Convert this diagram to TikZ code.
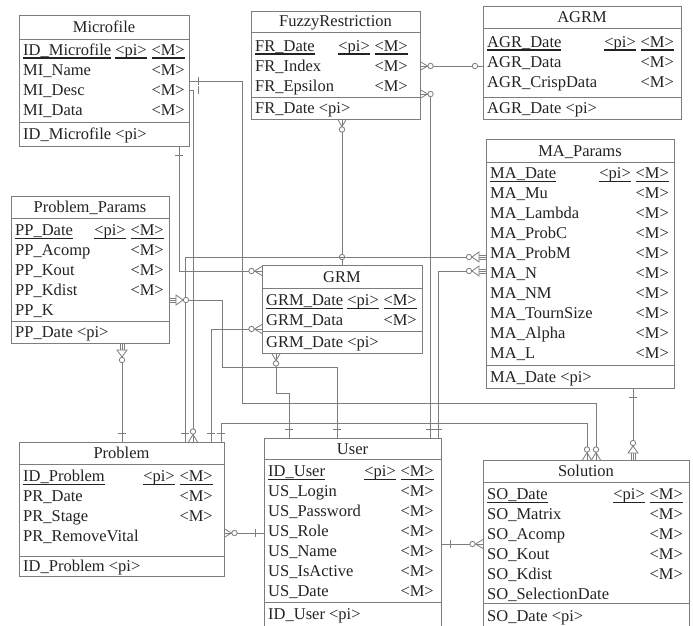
\documentclass[tikz,border=0pt]{standalone}
\usepackage{fontspec}
\setmainfont{Liberation Serif}
\definecolor{ln}{RGB}{125,125,125}
\definecolor{tx}{RGB}{35,35,35}
\tikzset{
  tbox/.style={draw=ln, line width=0.9pt, inner sep=0pt, outer sep=0pt, fill=white, anchor=north west},
  tline/.style={draw=ln, line width=0.9pt},
  conn/.style={draw=ln, line width=0.8pt},
  txt/.style={text=tx, inner sep=0pt, font=\fontsize{16.5}{18}\selectfont},
}
\newcommand\ul[1]{\setbox0\hbox{#1}\rlap{\vrule width\wd0 height -2pt depth 3.3pt}\box0}
% table frame: name, L, T, R, B, title-sep y, key-sep y, title
\newcommand\etab[8]{%
  \pgfmathsetmacro\tw{#4-#2}\pgfmathsetmacro\th{#5-#3}%
  \node[tbox, minimum width=\tw pt, minimum height=\th pt] (#1) at (#2,#3) {};
  \draw[tline] (#2,#6) -- (#4,#6) (#2,#7) -- (#4,#7);
  \node[txt, anchor=base] (#1-t) at ({(#2+#4)/2},{(#3+#6)/2+5.5}) {#8};
}
% key row: table, L, xM, y, name
\newcommand\rK[5]{%
  \node[txt,anchor=base west] (#1-#4) at (#2+4,#4+5.5) {\ul{#5}};
  \node[txt,anchor=base east] (#1-#4p) at (#3-38,#4+5.5) {\ul{<pi>}};
  \node[txt,anchor=base east] (#1-#4m) at (#3,#4+5.5) {\ul{<M>}};
}
% mandatory row
\newcommand\rM[5]{%
  \node[txt,anchor=base west] (#1-#4) at (#2+4,#4+5.5) {#5};
  \node[txt,anchor=base east] (#1-#4m) at (#3,#4+5.5) {<M>};
}
% plain row: table, L, y, text
\newcommand\rN[4]{%
  \node[txt,anchor=base west] (#1-#3) at (#2+4,#3+5.5) {#4};
}
% end symbols: point, outward angle
\newcommand\symOne[2]{\begin{scope}[shift={(#1)},rotate=#2]\draw[conn] (9,-4) -- (9,4);\end{scope}}
\newcommand\symOpt[2]{\begin{scope}[shift={(#1)},rotate=#2]\draw[conn,fill=white] (8,0) circle[radius=2.7pt];\end{scope}}
\newcommand\symMany[2]{\begin{scope}[shift={(#1)},rotate=#2]\draw[conn] (0,-4.5) -- (7.5,0) -- (0,4.5);\draw[conn,fill=white] (10.5,0) circle[radius=2.7pt];\end{scope}}
\newcommand\symDep[2]{\begin{scope}[shift={(#1)},rotate=#2]\draw[conn] (0,-2) -- (7,-2) (0,2) -- (7,2);\draw[conn,fill=white] (7,-5) -- (7,5) -- (14,0) -- cycle;\draw[conn,fill=white] (17,0) circle[radius=2.7pt];\end{scope}}
\begin{document}
\begin{tikzpicture}[x=1pt,y=-1pt]
\useasboundingbox (0,0) rectangle (693,626);
\fill[white] (0,0) rectangle (693,626);

% Microfile
\etab{mf}{19}{15}{189}{146}{39}{122}{Microfile}
\rK{mf}{19}{185}{50}{ID\_Microfile}
\rM{mf}{19}{185}{70}{MI\_Name}
\rM{mf}{19}{185}{90}{MI\_Desc}
\rM{mf}{19}{185}{110}{MI\_Data}
\rN{mf}{19}{134}{ID\_Microfile <pi>}

% FuzzyRestriction
\etab{fr}{251}{11}{420}{119}{32}{97}{FuzzyRestriction}
\rK{fr}{251}{408}{46}{FR\_Date}
\rM{fr}{251}{408}{66}{FR\_Index}
\rM{fr}{251}{408}{86}{FR\_Epsilon}
\rN{fr}{251}{108}{FR\_Date <pi>}

% AGRM
\etab{agrm}{483}{6}{681}{119}{28}{97}{AGRM}
\rK{agrm}{483}{674}{42}{AGR\_Date}
\rM{agrm}{483}{674}{62}{AGR\_Data}
\rM{agrm}{483}{674}{82}{AGR\_CrispData}
\rN{agrm}{483}{108}{AGR\_Date <pi>}

% Problem_Params
\etab{pp}{11}{196}{169}{343}{218}{321}{Problem\_Params}
\rK{pp}{11}{164}{230}{PP\_Date}
\rM{pp}{11}{164}{250}{PP\_Acomp}
\rM{pp}{11}{164}{270}{PP\_Kout}
\rM{pp}{11}{164}{290}{PP\_Kdist}
\rN{pp}{11}{310}{PP\_K}
\rN{pp}{11}{332}{PP\_Date <pi>}

% GRM
\etab{grm}{262}{265}{422}{353}{288}{331}{GRM}
\rK{grm}{262}{417}{300}{GRM\_Date}
\rM{grm}{262}{417}{320}{GRM\_Data}
\rN{grm}{262}{342}{GRM\_Date <pi>}

% MA_Params
\etab{ma}{486}{139}{674}{388}{162}{365}{MA\_Params}
\rK{ma}{486}{669}{173}{MA\_Date}
\rM{ma}{486}{669}{193}{MA\_Mu}
\rM{ma}{486}{669}{213}{MA\_Lambda}
\rM{ma}{486}{669}{233}{MA\_ProbC}
\rM{ma}{486}{669}{253}{MA\_ProbM}
\rM{ma}{486}{669}{273}{MA\_N}
\rM{ma}{486}{669}{293}{MA\_NM}
\rM{ma}{486}{669}{313}{MA\_TournSize}
\rM{ma}{486}{669}{333}{MA\_Alpha}
\rM{ma}{486}{669}{353}{MA\_L}
\rN{ma}{486}{377}{MA\_Date <pi>}

% Problem
\etab{pr}{19}{442}{224}{576}{464}{556}{Problem}
\rK{pr}{19}{213}{476}{ID\_Problem}
\rM{pr}{19}{213}{496}{PR\_Date}
\rM{pr}{19}{213}{516}{PR\_Stage}
\rN{pr}{19}{536}{PR\_RemoveVital}
\rN{pr}{19}{566}{ID\_Problem <pi>}

% User
\etab{us}{264}{438}{441}{632}{459}{602}{User}
\rK{us}{264}{434}{471}{ID\_User}
\rM{us}{264}{434}{491}{US\_Login}
\rM{us}{264}{434}{511}{US\_Password}
\rM{us}{264}{434}{531}{US\_Role}
\rM{us}{264}{434}{551}{US\_Name}
\rM{us}{264}{434}{571}{US\_IsActive}
\rM{us}{264}{434}{591}{US\_Date}
\rN{us}{264}{614}{ID\_User <pi>}

% Solution
\etab{so}{483}{460}{689}{632}{482}{603}{Solution}
\rK{so}{483}{683}{494}{SO\_Date}
\rM{so}{483}{683}{514}{SO\_Matrix}
\rM{so}{483}{683}{534}{SO\_Acomp}
\rM{so}{483}{683}{554}{SO\_Kout}
\rM{so}{483}{683}{574}{SO\_Kdist}
\rN{so}{483}{594}{SO\_SelectionDate}
\rN{so}{483}{616}{SO\_Date <pi>}

% ---- connectors ----
% FuzzyRestriction - AGRM
\draw[conn] (fr.east |- 0,66) -- (agrm.west |- 0,66);
\symMany{fr.east |- 0,66}{0}
\symOpt{agrm.west |- 0,66}{180}
% FuzzyRestriction - User
\draw[conn] (fr.east |- 0,94) -- (430,94) -- (430,0 |- us.north);
\symMany{fr.east |- 0,94}{0}
\symOne{430,0 |- us.north}{90}
% FuzzyRestriction - GRM
\draw[conn] (342,0 |- fr.south) -- (342,0 |- grm.north);
\symMany{342,0 |- fr.south}{-90}
\symOpt{342,0 |- grm.north}{90}
% Microfile - GRM
\draw[conn] (179,0 |- mf.south) -- (179,271) -- (grm.west |- 0,271);
\symOne{179,0 |- mf.south}{-90}
\symMany{grm.west |- 0,271}{180}
% Microfile - Solution
\draw[conn] (mf.east |- 0,81) -- (242,81) -- (242,403) -- (596,403) -- (596,0 |- so.north);
\symOne{mf.east |- 0,81}{0}
\symMany{596,0 |- so.north}{90}
% Microfile - Problem
\draw[conn] (mf.east |- 0,90) -- (193,90) -- (193,0 |- pr.north);
\symOne{mf.east |- 0,90}{0}
\symMany{193,0 |- pr.north}{90}
% MA_Params - Problem
\draw[conn] (ma.west |- 0,257) -- (185,257) -- (185,0 |- pr.north);
\symDep{ma.west |- 0,257}{180}
\symOne{185,0 |- pr.north}{90}
% MA_Params - User
\draw[conn] (ma.west |- 0,271) -- (438,271) -- (438,0 |- us.north);
\symDep{ma.west |- 0,271}{180}
\symOne{438,0 |- us.north}{90}
% Problem_Params - User
\draw[conn] (pp.east |- 0,300) -- (222,300) -- (222,367) -- (337,367) -- (337,0 |- us.north);
\symDep{pp.east |- 0,300}{0}
\symOne{337,0 |- us.north}{90}
% Problem_Params - Problem
\draw[conn] (122,0 |- pp.south) -- (122,0 |- pr.north);
\symDep{122,0 |- pp.south}{-90}
\symOne{122,0 |- pr.north}{90}
% GRM - Problem
\draw[conn] (grm.west |- 0,329) -- (211,329) -- (211,0 |- pr.north);
\symMany{grm.west |- 0,329}{180}
\symOne{211,0 |- pr.north}{90}
% GRM - User
\draw[conn] (276,0 |- grm.south) -- (276,393) -- (289,393) -- (289,0 |- us.north);
\symMany{276,0 |- grm.south}{-90}
\symOne{289,0 |- us.north}{90}
% Problem - Solution
\draw[conn] (221,0 |- pr.north) -- (221,423) -- (587,423) -- (587,0 |- so.north);
\symOne{221,0 |- pr.north}{90}
\symMany{587,0 |- so.north}{90}
% MA_Params - Solution
\draw[conn] (633,0 |- ma.south) -- (633,0 |- so.north);
\symOne{633,0 |- ma.south}{-90}
\symDep{633,0 |- so.north}{90}
% User - Solution
\draw[conn] (us.east |- 0,544) -- (so.west |- 0,544);
\symOne{us.east |- 0,544}{0}
\symMany{so.west |- 0,544}{180}
% Problem - User
\draw[conn] (pr.east |- 0,533) -- (us.west |- 0,533);
\symMany{pr.east |- 0,533}{0}
\symOne{us.west |- 0,533}{180}
\end{tikzpicture}
\end{document}
